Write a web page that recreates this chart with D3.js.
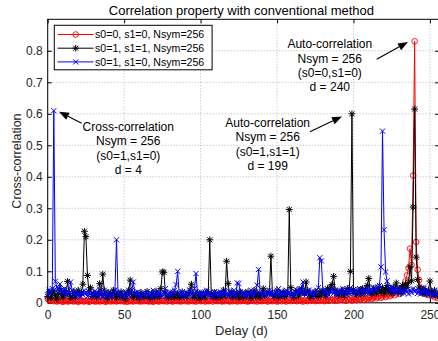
<!DOCTYPE html>
<html><head><meta charset="utf-8">
<script src="https://cdn.jsdelivr.net/npm/d3@7/dist/d3.min.js"></script>
<style>body{margin:0;background:#fff}svg{display:block;font-family:"Liberation Sans",Arial,sans-serif}</style>
</head><body><svg id="chart" width="438" height="341"></svg>
<script>
// ---------------- data ----------------
const titleText = "Correlation property with conventional method";
const xLabel = "Delay (d)";
const yLabel = "Cross-correlation";
const xTicks = [0, 50, 100, 150, 200, 250];
const yTicks = [0, 0.1, 0.2, 0.3, 0.4, 0.5, 0.6, 0.7, 0.8];
const yTickLabels = ["0", "0.1", "0.2", "0.3", "0.4", "0.5", "0.6", "0.7", "0.8"];
const seriesNames = ["s0=0, s1=0, Nsym=256", "s0=1, s1=1, Nsym=256", "s0=1, s1=0, Nsym=256"];
const seriesColors = ["#ff0000", "#000000", "#0000ff"];
const seriesMarkers = ["circle", "star", "cross"];

const red00 = [
0.012,0.008,0.006,0.009,0.005,0.007,0.004,0.006,0.008,0.005,0.003,0.006,0.007,0.004,0.005,0.008,
0.006,0.004,0.007,0.005,0.003,0.006,0.008,0.005,0.004,0.007,0.006,0.003,0.005,0.008,0.006,0.004,
0.005,0.007,0.004,0.006,0.009,0.005,0.003,0.006,0.008,0.004,0.006,0.005,0.007,0.004,0.006,0.008,
0.005,0.007,0.004,0.006,0.003,0.008,0.005,0.006,0.004,0.007,0.009,0.005,0.006,0.004,0.007,0.005,
0.008,0.006,0.004,0.005,0.007,0.003,0.006,0.008,0.005,0.004,0.007,0.006,0.005,0.009,0.004,0.006,
0.007,0.005,0.004,0.008,0.006,0.005,0.007,0.004,0.006,0.009,0.005,0.007,0.004,0.006,0.008,0.005,
0.006,0.004,0.007,0.009,0.005,0.006,0.008,0.004,0.007,0.005,0.006,0.009,0.004,0.007,0.006,0.005,
0.008,0.006,0.004,0.007,0.005,0.009,0.006,0.004,0.008,0.005,0.007,0.006,0.004,0.009,0.005,0.007,
0.006,0.008,0.005,0.004,0.007,0.006,0.009,0.005,0.007,0.004,0.008,0.006,0.005,0.007,0.009,0.006,
0.004,0.008,0.006,0.005,0.009,0.007,0.004,0.006,0.008,0.005,0.010,0.006,0.004,0.008,0.007,0.005,
0.009,0.006,0.008,0.005,0.007,0.010,0.006,0.004,0.008,0.007,0.005,0.009,0.006,0.008,0.011,0.005,
0.007,0.009,0.006,0.010,0.008,0.005,0.007,0.011,0.006,0.009,0.008,0.012,0.006,0.010,0.007,0.009,
0.012,0.008,0.010,0.006,0.011,0.009,0.013,0.007,0.010,0.012,0.008,0.014,0.010,0.012,0.016,0.009,
0.013,0.011,0.015,0.018,0.012,0.016,0.020,0.014,0.018,0.022,0.016,0.020,0.025,0.018,0.023,0.028,
0.021,0.026,0.032,0.024,0.030,0.038,0.028,0.045,0.036,0.050,0.068,0.087,0.110,0.172,0.120,0.404,
0.830,0.193,0.105,0.072,0.045,0.032,0.040,0.028,0.035,0.025,0.030,0.022,0.028,0.018,0.024,0.015
];
const black11 = [
0.020,0.035,0.015,0.028,0.040,0.022,0.012,0.030,0.045,0.025,0.018,0.038,0.026,0.068,0.030,0.015,
0.022,0.035,0.018,0.028,0.040,0.025,0.032,0.059,0.227,0.210,0.087,0.035,0.048,0.020,0.030,0.025,
0.018,0.030,0.061,0.025,0.091,0.040,0.022,0.015,0.033,0.027,0.019,0.040,0.028,0.016,0.030,0.022,
0.035,0.018,0.026,0.014,0.030,0.040,0.072,0.025,0.018,0.032,0.020,0.027,0.015,0.033,0.024,0.019,
0.028,0.036,0.020,0.015,0.030,0.024,0.018,0.035,0.026,0.020,0.045,0.098,0.097,0.030,0.022,0.016,
0.028,0.020,0.034,0.018,0.025,0.030,0.016,0.024,0.035,0.020,0.027,0.018,0.030,0.040,0.059,0.022,
0.018,0.026,0.032,0.015,0.024,0.020,0.030,0.018,0.035,0.030,0.200,0.028,0.020,0.033,0.016,0.025,
0.030,0.018,0.026,0.040,0.022,0.132,0.061,0.025,0.035,0.018,0.028,0.022,0.030,0.016,0.035,0.024,
0.018,0.030,0.022,0.035,0.026,0.015,0.028,0.040,0.020,0.032,0.024,0.018,0.030,0.045,0.022,0.028,
0.035,0.030,0.148,0.030,0.020,0.026,0.040,0.018,0.030,0.024,0.035,0.020,0.028,0.030,0.296,0.048,
0.025,0.018,0.032,0.040,0.022,0.030,0.045,0.035,0.030,0.066,0.040,0.025,0.018,0.030,0.022,0.035,
0.028,0.020,0.035,0.025,0.040,0.030,0.022,0.045,0.035,0.050,0.058,0.084,0.040,0.030,0.025,0.035,
0.028,0.040,0.022,0.035,0.045,0.030,0.100,0.600,0.042,0.030,0.025,0.035,0.040,0.028,0.045,0.030,
0.040,0.055,0.077,0.035,0.028,0.045,0.038,0.030,0.050,0.040,0.035,0.048,0.030,0.042,0.055,0.035,
0.045,0.030,0.050,0.040,0.063,0.035,0.045,0.030,0.055,0.040,0.060,0.048,0.065,0.114,0.070,0.304,
0.615,0.145,0.074,0.050,0.040,0.030,0.045,0.035,0.028,0.040,0.069,0.035,0.025,0.040,0.030,0.022
];
const blue10 = [
0.025,0.040,0.030,0.045,0.610,0.068,0.050,0.035,0.060,0.040,0.030,0.045,0.025,0.038,0.030,0.066,
0.040,0.030,0.022,0.035,0.028,0.018,0.032,0.025,0.040,0.030,0.020,0.035,0.028,0.022,0.030,0.038,
0.025,0.020,0.043,0.030,0.018,0.028,0.035,0.022,0.030,0.025,0.018,0.035,0.040,0.200,0.030,0.022,
0.030,0.025,0.018,0.035,0.028,0.022,0.030,0.040,0.066,0.030,0.022,0.035,0.025,0.018,0.030,0.028,
0.022,0.035,0.025,0.030,0.018,0.040,0.028,0.022,0.035,0.025,0.030,0.020,0.032,0.045,0.028,0.022,
0.035,0.025,0.030,0.040,0.058,0.100,0.030,0.022,0.035,0.028,0.020,0.032,0.025,0.040,0.030,0.022,
0.045,0.093,0.030,0.025,0.035,0.020,0.030,0.028,0.040,0.022,0.032,0.025,0.018,0.035,0.028,0.030,
0.022,0.035,0.025,0.030,0.040,0.028,0.020,0.035,0.030,0.025,0.040,0.022,0.063,0.061,0.030,0.025,
0.035,0.028,0.020,0.032,0.025,0.040,0.030,0.022,0.035,0.056,0.106,0.030,0.025,0.035,0.028,0.022,
0.030,0.040,0.025,0.035,0.028,0.022,0.030,0.045,0.025,0.035,0.030,0.022,0.040,0.028,0.035,0.025,
0.030,0.022,0.035,0.040,0.028,0.045,0.030,0.066,0.035,0.025,0.030,0.040,0.028,0.035,0.022,0.030,
0.040,0.048,0.143,0.133,0.035,0.028,0.040,0.030,0.025,0.035,0.045,0.030,0.038,0.025,0.035,0.040,
0.030,0.045,0.035,0.028,0.040,0.032,0.048,0.035,0.030,0.042,0.035,0.028,0.045,0.038,0.030,0.040,
0.035,0.045,0.030,0.040,0.035,0.050,0.042,0.038,0.045,0.055,0.114,0.545,0.232,0.098,0.069,0.045,
0.040,0.050,0.035,0.045,0.030,0.040,0.048,0.035,0.042,0.030,0.040,0.035,0.028,0.040,0.032,0.045,
0.035,0.040,0.030,0.038,0.028,0.035,0.048,0.030,0.040,0.025,0.035,0.030,0.022,0.038,0.030,0.025
];
const delays = red00.map((_, i) => i);
const annotations = [
  {lines: ["Cross-correlation", "Nsym = 256", "(s0=1,s1=0)", "d = 4"], d: 4, v: 0.610},
  {lines: ["Auto-correlation", "Nsym = 256", "(s0=1,s1=1)", "d = 199"], d: 199, v: 0.600},
  {lines: ["Auto-correlation", "Nsym = 256", "(s0=0,s1=0)", "d = 240"], d: 240, v: 0.830}
];

// ---------------- layout ----------------
const svg = d3.select("#chart");
const L = 47.7, R = 439.1, T = 19.3, B = 302.8;
const x = d3.scaleLinear().domain([0, 256]).range([L, R]);
const y = d3.scaleLinear().domain([0, 0.9]).range([B, T]);

// grid
const grid = svg.append("g");
xTicks.forEach(t => grid.append("line").attr("x1", x(t)).attr("x2", x(t)).attr("y1", T).attr("y2", B));
yTicks.forEach(t => grid.append("line").attr("x1", L).attr("x2", R).attr("y1", y(t)).attr("y2", y(t)));
grid.selectAll("line").attr("stroke", "#b4b4b4").attr("stroke-width", 1).attr("stroke-dasharray", "1,2");

// axes (inward ticks on all sides)
const fs = 12;
const ax = svg.append("g").attr("transform", `translate(0,${B})`)
  .call(d3.axisBottom(x).tickValues(xTicks).tickSize(-4).tickPadding(8).tickFormat(d3.format("d")));
const ay = svg.append("g").attr("transform", `translate(${L},0)`)
  .call(d3.axisLeft(y).tickValues(yTicks).tickSize(-4).tickPadding(5).tickFormat((d, i) => yTickLabels[i]));
const axT = svg.append("g").attr("transform", `translate(0,${T})`)
  .call(d3.axisTop(x).tickValues(xTicks).tickSize(-4).tickFormat(""));
const ayR = svg.append("g").attr("transform", `translate(${R},0)`)
  .call(d3.axisRight(y).tickValues(yTicks).tickSize(-4).tickFormat(""));
[ax, ay, axT, ayR].forEach(g => {
  g.select(".domain").remove();
  g.selectAll("line").attr("stroke", "#000");
  g.selectAll("text").attr("font-size", fs).attr("fill", "#262626")
    .attr("font-family", '"Liberation Sans",Arial,sans-serif');
});
svg.append("rect").attr("x", L).attr("y", T).attr("width", R - L).attr("height", B - T)
  .attr("fill", "none").attr("stroke", "#000").attr("stroke-width", 1);

// markers
function marker(g, type, color, cx, cy) {
  if (type === "circle") {
    g.append("circle").attr("cx", cx).attr("cy", cy).attr("r", 2.8)
      .attr("fill", "none").attr("stroke", color).attr("stroke-width", 0.9);
  } else if (type === "star") {
    const r = 3.4, a = 2.5;
    g.append("path").attr("d", `M${cx - r},${cy}L${cx + r},${cy}M${cx},${cy - r}L${cx},${cy + r}M${cx - a},${cy - a}L${cx + a},${cy + a}M${cx - a},${cy + a}L${cx + a},${cy - a}`)
      .attr("stroke", color).attr("stroke-width", 1).attr("fill", "none");
  } else {
    const a = 2.6;
    g.append("path").attr("d", `M${cx - a},${cy - a}L${cx + a},${cy + a}M${cx - a},${cy + a}L${cx + a},${cy - a}`)
      .attr("stroke", color).attr("stroke-width", 1).attr("fill", "none");
  }
}

// series
const allSeries = [red00, black11, blue10];
const line = d3.line().x((d, i) => x(delays[i])).y(d => y(d));
allSeries.forEach((vals, k) => {
  const g = svg.append("g");
  g.append("path").datum(vals).attr("d", line).attr("fill", "none")
    .attr("stroke", seriesColors[k]).attr("stroke-width", 1);
  vals.forEach((v, i) => marker(g, seriesMarkers[k], seriesColors[k], x(delays[i]), y(v)));
});

// title & labels
svg.append("text").attr("x", (L + R) / 2 - 2).attr("y", 15).attr("text-anchor", "middle")
  .attr("font-size", 13).attr("fill", "#000").text(titleText);
svg.append("text").attr("x", (L + R) / 2 - 2).attr("y", 334.5).attr("text-anchor", "middle")
  .attr("font-size", 13).attr("fill", "#262626").text(xLabel);
svg.append("text").attr("transform", `translate(21,${(T + B) / 2}) rotate(-90)`).attr("text-anchor", "middle")
  .attr("font-size", 12.5).attr("fill", "#262626").text(yLabel);

// legend
const lg = svg.append("g");
lg.append("rect").attr("x", 54.3).attr("y", 25.3).attr("width", 157.8).attr("height", 44.5)
  .attr("fill", "#fff").attr("stroke", "#000").attr("stroke-width", 1);
seriesNames.forEach((name, k) => {
  const yy = 34.5 + k * 13.7;
  lg.append("line").attr("x1", 57.5).attr("x2", 93.5).attr("y1", yy).attr("y2", yy)
    .attr("stroke", seriesColors[k]).attr("stroke-width", 1);
  marker(lg, seriesMarkers[k], seriesColors[k], 75.7, yy);
  lg.append("text").attr("x", 95).attr("y", yy + 3.8).attr("font-size", 10.6).attr("fill", "#000").text(name);
});

// annotations
const annLayout = [
  {cx: 128.3, base: 131, tail: [81.7, 123.3], tip: [59, 111.7]},
  {cx: 267.7, base: 127, tail: [310, 131.7], tip: [342, 116.5]},
  {cx: 329.8, base: 48.3, tail: [376.7, 59.3], tip: [408, 42]}
];
annotations.forEach((a, k) => {
  const p = annLayout[k];
  const g = svg.append("g");
  a.lines.forEach((t, j) => g.append("text").attr("x", p.cx).attr("y", p.base + j * 14.3)
    .attr("text-anchor", "middle").attr("font-size", 12).attr("fill", "#000").text(t));
  const [x0, y0] = p.tail, [x1, y1] = p.tip;
  const ang = Math.atan2(y1 - y0, x1 - x0), hl = 10, hw = 3.8;
  const bx = x1 - hl * Math.cos(ang), by = y1 - hl * Math.sin(ang);
  g.append("line").attr("x1", x0).attr("y1", y0).attr("x2", bx).attr("y2", by)
    .attr("stroke", "#000").attr("stroke-width", 1.1);
  g.append("path").attr("d", `M${x1},${y1}L${bx + hw * Math.sin(ang)},${by - hw * Math.cos(ang)}L${bx - hw * Math.sin(ang)},${by + hw * Math.cos(ang)}Z`)
    .attr("fill", "#000");
});
</script></body></html>
